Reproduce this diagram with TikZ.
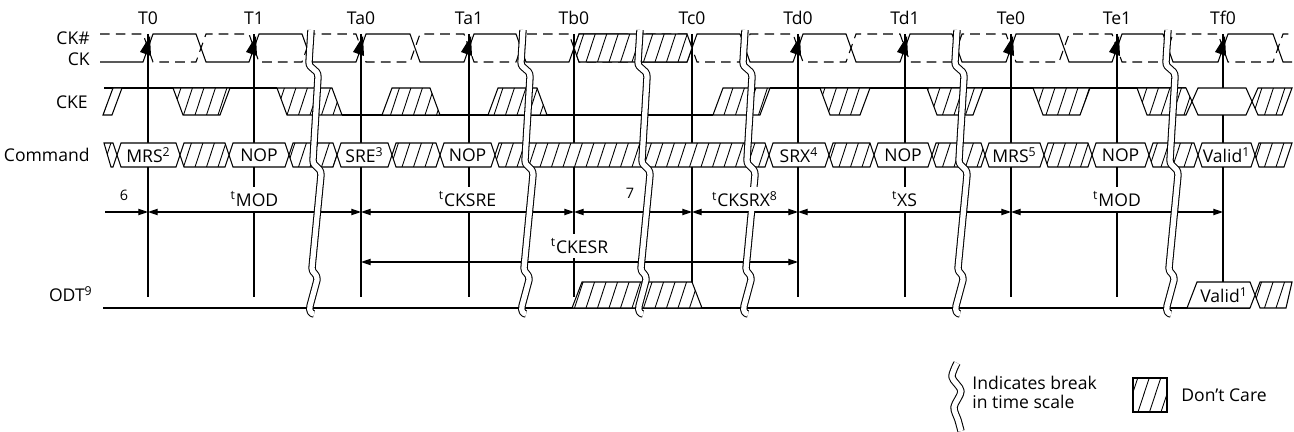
\documentclass[tikz,border=0pt]{standalone}
\usepackage{fontspec}
\setmainfont{Open Sans}
\usepackage{tikz}
\usetikzlibrary{arrows.meta,positioning}

\tikzset{
  sig/.style={line width=0.6pt, line join=miter},
  clkn/.style={sig, dash pattern=on 5.5pt off 3.5pt},
  tline/.style={line width=0.6pt},
  hatchln/.style={line width=0.5pt},
  tarr/.style={line width=0.6pt,
    {Triangle[length=5.5pt,width=3.6pt]}-{Triangle[length=5.5pt,width=3.6pt]}},
  rarr/.style={line width=0.6pt, -{Triangle[length=5.5pt,width=3.6pt]}},
  txt/.style={font=\fontsize{10}{11}\selectfont, inner sep=0pt},
  rowlab/.style={txt, anchor=east},
  tmlab/.style={txt, fill=white, inner xsep=1pt, inner ysep=2.5pt},
  fnote/.style={font=\fontsize{8.2}{9}\selectfont, inner sep=0pt},
  brkout/.style={line width=4.2pt, black, line join=round},
  brkin/.style={line width=3pt, white, line join=round}
}

% clock waveform, #1 = level before T0, #2 = other level
\newcommand\clk[2]{(100,#1) -- (143,#1) -- (153,#2) -- (196,#2) -- (206,#1) -- (249,#1) -- (259,#2) -- (302,#2) -- (312,#1) -- (356,#1) -- (366,#2) -- (410,#2) -- (420,#1) -- (464,#1) -- (474,#2) -- (516,#2) -- (526,#1) -- (569,#1) -- (579,#2) -- (628,#2) -- (638,#1) -- (687,#1) -- (697,#2) -- (740,#2) -- (750,#1) -- (793,#1) -- (803,#2) -- (846,#2) -- (856,#1) -- (900,#1) -- (910,#2) -- (952,#2) -- (962,#1) -- (1006,#1) -- (1016,#2) -- (1059,#2) -- (1069,#1) -- (1112,#1) -- (1122,#2) -- (1163,#2) -- (1173,#1) -- (1218,#1) -- (1228,#2) -- (1273,#2) -- (1283,#1) -- (1292,#1)}

% command bus cell between two crossings
\newcommand\hexbox[2]{(#1,155) -- ({#1+4},143) -- ({#2-4},143) -- (#2,155) -- ({#2-4},167) -- ({#1+4},167) -- cycle}

% don't care cells of one row
\newcommand\hatchrow[3]{%
  \fill[white] #3;
  \begin{scope}
    \clip #3;
    \foreach \hx in {80,91.5,...,1310}
      \draw[hatchln] (\hx,#2) -- ({\hx+0.33*(#2-#1)},#1);
  \end{scope}
  \draw[sig] #3;}

% break in time scale
\def\brkpath{(0,30) -- (-2,62) .. controls (-2,70) and (7,68) .. (7,77) -- (2,160) .. controls (2,168) and (10,166) .. (10,175) -- (1,268) .. controls (1,274) and (6,272) .. (6,280) -- (-1,306) .. controls (-2,311) and (0,314) .. (3,314)}
\newcommand\brk[1]{%
  \begin{scope}[shift={(#1,0)}]
    \draw[brkout] \brkpath;
    \draw[brkin] \brkpath;
  \end{scope}}

\begin{document}
\begin{tikzpicture}[x=0.02cm,y=-0.02cm]
\useasboundingbox (0,0) rectangle (1294,432);

\coordinate (top) at (0,34);
\coordinate (bot) at (0,297);
\coordinate (tm) at (0,212);
\coordinate (esr) at (0,262);

% clock edges
\foreach \n/\x in {T0/148,T1/254,Ta0/361,Ta1/469,Tb0/574,Tc0/692,Td0/798,Td1/905,Te0/1011,Te1/1117,Tf0/1223}
{
  \node[txt] (\n) at (\x,18) {\n};
  \draw[tline] (\n |- top) -- (\n |- bot);
}

% CK# and CK
\draw[clkn] \clk{34}{62};
\draw[sig] \clk{62}{34};
\hatchrow{34}{62}{(574,48) -- (579,34) -- (687,34) -- (692,48) -- (687,62) -- (579,62) -- cycle}
\foreach \x in {148,254,361,469,798,905,1011,1117,1223}
  \fill (\x+2,36) -- (\x-8,52) -- (\x+3,56) -- cycle;

% CKE
\draw[sig] (104,88) -- (277,88);
\draw[sig] (342,115) -- (713,115);
\draw[sig] (770,88) -- (1186,88);
\hatchrow{88}{115}{(103,115) -- (112,115) -- (122,88) -- (113,88) -- cycle
  (173,88) -- (230,88) -- (220,115) -- (183,115) -- cycle
  (277,88) -- (332,88) -- (342,115) -- (287,115) -- cycle
  (382,115) -- (392,88) -- (430,88) -- (440,115) -- cycle
  (488,115) -- (498,88) -- (537,88) -- (547,115) -- cycle
  (713,115) -- (723,88) -- (770,88) -- (760,115) -- cycle
  (820,88) -- (870,88) -- (860,115) -- (830,115) -- cycle
  (927,88) -- (983,88) -- (973,115) -- (937,115) -- cycle
  (1033,88) -- (1090,88) -- (1080,115) -- (1043,115) -- cycle
  (1137,88) -- (1186,88) -- (1192,101.5) -- (1186,115) -- (1147,115) -- cycle
  (1252,101.5) -- (1258,88) -- (1292,88) -- (1282,115) -- (1258,115) -- cycle}
\filldraw[sig,fill=white] (1192,101.5) -- (1198,88) -- (1246,88) -- (1252,101.5) -- (1246,115) -- (1198,115) -- cycle;

% Command
\filldraw[sig,fill=white] \hexbox{117}{180} \hexbox{229}{289} \hexbox{337}{392}
  \hexbox{440}{495} \hexbox{769}{829} \hexbox{874}{932} \hexbox{985}{1044}
  \hexbox{1092}{1149} \hexbox{1198}{1255};
\hatchrow{143}{167}{(104,143) -- (113,143) -- (117,155) -- (113,167) -- (111,167) -- cycle
  \hexbox{180}{229} \hexbox{289}{337} \hexbox{392}{440} \hexbox{495}{769}
  \hexbox{829}{874} \hexbox{932}{985} \hexbox{1044}{1092} \hexbox{1149}{1198}
  (1255,155) -- (1259,143) -- (1292,143) -- (1284,167) -- (1259,167) -- cycle}
\node[txt] (mrs-a) at (148.5,155) {MRS\textsuperscript{2}};
\node[txt] (nop-a) at (259,155) {NOP};
\node[txt] (sre) at (364.5,155) {SRE\textsuperscript{3}};
\node[txt] (nop-b) at (467.5,155) {NOP};
\node[txt] (srx) at (799,155) {SRX\textsuperscript{4}};
\node[txt] (nop-c) at (903,155) {NOP};
\node[txt] (mrs-b) at (1014.5,155) {MRS\textsuperscript{5}};
\node[txt] (nop-d) at (1120.5,155) {NOP};
\node[txt] (valid-a) at (1226.5,155) {Valid\textsuperscript{1}};

% timing
\coordinate (six) at (105,212);
\draw[rarr] (six) -- (T0 |- tm);
\draw[tarr] (T0 |- tm) -- (Ta0 |- tm);
\draw[tarr] (Ta0 |- tm) -- (Tb0 |- tm);
\draw[tarr] (Tb0 |- tm) -- (Tc0 |- tm);
\draw[tarr] (Tc0 |- tm) -- (Td0 |- tm);
\draw[tarr] (Td0 |- tm) -- (Te0 |- tm);
\draw[tarr] (Te0 |- tm) -- (Tf0 |- tm);
\draw[tarr] (Ta0 |- esr) -- (Td0 |- esr);

% ODT
\draw[sig] (103,308) -- (1250,308);
\hatchrow{282}{308}{(572,308) -- (582,282) -- (692,282) -- (702,308) -- cycle
  (1255,295) -- (1260,282) -- (1292,282) -- (1286,308) -- (1260,308) -- cycle}
\filldraw[sig,fill=white] (1187,308) -- (1197,282) -- (1250,282) -- (1255,295) -- (1250,308) -- cycle;
\node[txt] (valid-b) at (1224,295) {Valid\textsuperscript{1}};

% breaks
\foreach \x in {311,523,640,745,957,1168}
  \brk{\x};

% timing labels
\node[fnote] (n6) at (124,195) {6};
\node[tmlab] (mod-a) at (254.5,199) {\textsuperscript{t}MOD};
\node[tmlab] (cksre) at (467.5,199) {\textsuperscript{t}CKSRE};
\node[fnote] (n7) at (630,193) {7};
\node[tmlab] (cksrx) at (745,199) {\textsuperscript{t}CKSRX\textsuperscript{8}};
\node[tmlab] (xs) at (904.5,199) {\textsuperscript{t}XS};
\node[tmlab] (mod-b) at (1117,199) {\textsuperscript{t}MOD};
\node[tmlab] (ckesr) at (579.5,246) {\textsuperscript{t}CKESR};

% signal names
\node[rowlab] (ckn-lab) at (90,38) {CK\#};
\node[rowlab] (ck-lab) at (90,59) {CK};
\node[rowlab] (cke-lab) at (88,102) {CKE};
\node[rowlab] (cmd-lab) at (90,155) {Command};
\node[rowlab] (odt-lab) at (93,294) {ODT\textsuperscript{9}};

% legend
\draw[brkout] plot[smooth] coordinates {(957,363) (952,377) (961,391) (954,407) (958,420) (961,431)};
\draw[brkin] plot[smooth] coordinates {(957,363) (952,377) (961,391) (954,407) (958,420) (961,431)};
\node[txt, anchor=west, align=left, font=\fontsize{10}{10.8}\selectfont] (brk-lab) at (972,392) {Indicates break\\in time scale};
\hatchrow{378}{412}{(1133,378) rectangle (1167,412)}
\node[txt, anchor=west] (dc-lab) at (1181,395) {Don’t Care};
\end{tikzpicture}
\end{document}
